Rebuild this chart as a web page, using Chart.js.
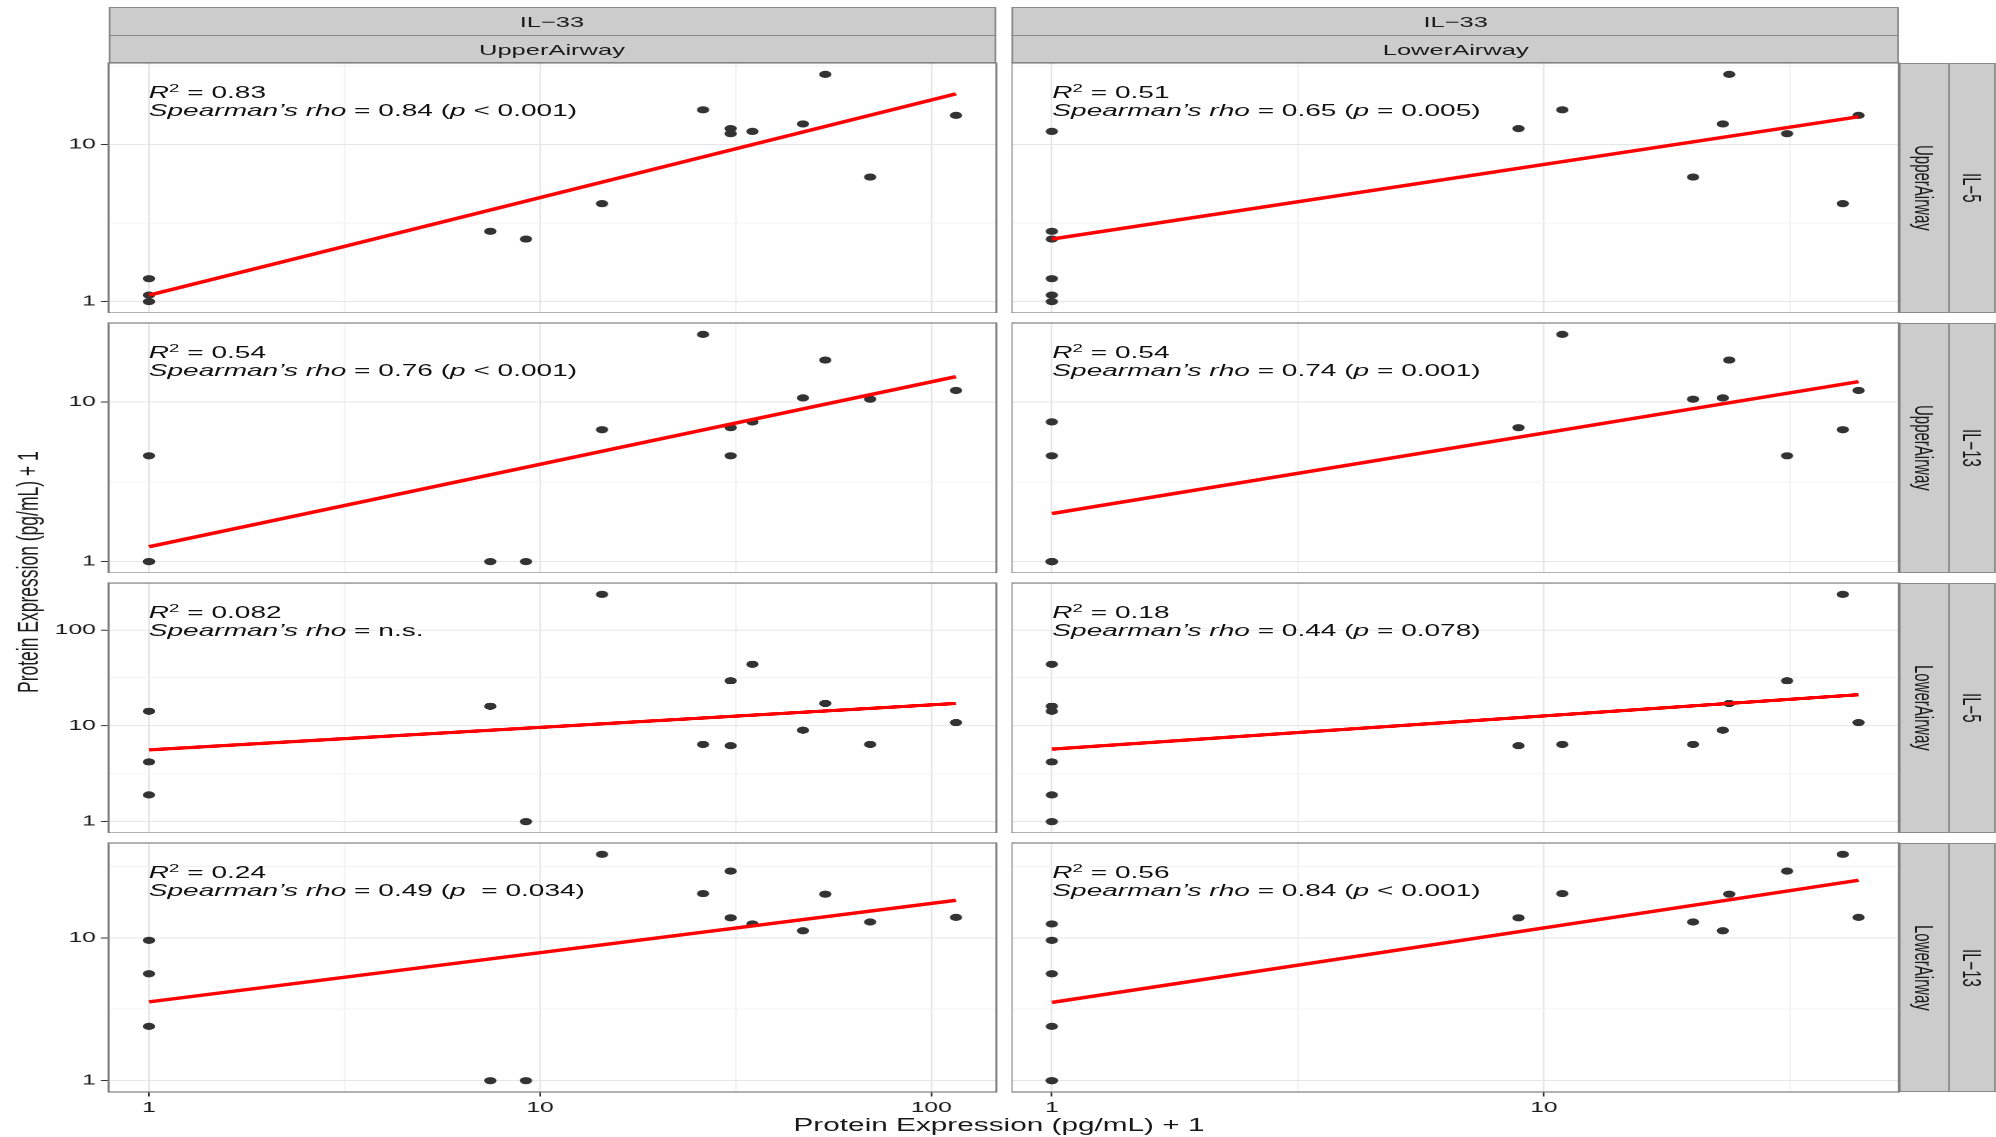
<!DOCTYPE html>
<html>
<head>
<meta charset="utf-8">
<script src="https://cdn.jsdelivr.net/npm/chart.js@4.4.1/dist/chart.umd.min.js"></script>
<style>
  html, body { margin: 0; padding: 0; background: #fff; overflow: hidden; }
  body { width: 1996px; height: 1137px; position: relative; }
  #stage {
    position: absolute; left: 0; top: 0; height: 1137px;
    transform-origin: 0 0;
    font-family: "Liberation Sans", Arial, sans-serif;
    color: #1a1a1a;
  }
  .panel { position: absolute; }
  .strip {
    position: absolute; box-sizing: border-box;
    background: #cccccc; border: 1px solid #8a8a8a;
    display: flex; align-items: center; justify-content: center;
    font-size: 15px; color: #1a1a1a; white-space: nowrap;
  }
  .strip.side span { writing-mode: vertical-rl; }
  .note { position: absolute; font-size: 16.5px; line-height: 16.5px; white-space: pre; color: #111; }
  .note .sup { position: relative; top: -6px; font-size: 11px; }
  .axis-title { position: absolute; font-size: 17.5px; white-space: nowrap; color: #1a1a1a; }
  .axis-title.y { writing-mode: vertical-rl; transform: rotate(180deg); display: flex; align-items: center; justify-content: center; }
</style>
</head>
<body>
<div id="stage"></div>
<script>
// --- Data: (pg/mL) + 1 per subject, same subject order in every array ---
const il33Upper = [1, 1, 1, 7.46, 9.2, 14.4, 26.1, 30.7, 30.7, 34.9, 47, 53.6, 69.8, 115.7];
const il33Lower = [1, 1, 1, 1, 1, 40.5, 10.9, 8.88, 31.2, 1, 23.1, 23.8, 20.1, 43.6];
const il5Upper  = [1.4, 1.1, 1.0, 2.8, 2.5, 4.2, 16.6, 12.6, 11.7, 12.1, 13.5, 27.9, 6.2, 15.3];
const il13Upper = [4.6, 1, 1, 1, 1, 6.7, 26.5, 6.9, 4.6, 7.5, 10.6, 18.3, 10.4, 11.8];
const il5Lower  = [14.2, 4.2, 1.9, 16.0, 1, 235, 6.4, 6.2, 29.5, 43.9, 9.0, 17.1, 6.4, 10.8];
const il13Lower = [9.6, 5.6, 2.4, 1, 1, 38.4, 20.4, 13.8, 29.3, 12.5, 11.2, 20.2, 12.9, 13.9];

// fitted line ends [y at min x, y at max x]
const fitUpperCol = [[1.1, 21.0], [1.24, 14.4], [5.6, 17.1], [3.56, 18.3]];
const fitLowerCol = [[2.5, 15.0], [2.0, 13.4], [5.7, 21.1], [3.53, 25.3]];

// annotations
const r2Text  = [['0.83', '0.51'], ['0.54', '0.54'], ['0.082', '0.18'], ['0.24', '0.56']];
const rhoText = [['0.84', '0.65'], ['0.76', '0.74'], ['n.s.', '0.44'], ['0.49', '0.84']];
const pText   = [['&lt; 0.001', '= 0.005'], ['&lt; 0.001', '= 0.001'], ['', '= 0.078'], [' = 0.034', '&lt; 0.001']];

// ticks
const majorTicks = [1, 10, 100];
const minorTicks = [3.162, 31.62, 316.2];

// facet labels
const topStrip = 'IL\u221233';
const colStrip = ['UpperAirway', 'LowerAirway'];
const rowSite = ['UpperAirway', 'UpperAirway', 'LowerAirway', 'LowerAirway'];
const rowCytokine = ['IL\u22125', 'IL\u221213', 'IL\u22125', 'IL\u221213'];

const colData = [il33Upper, il33Lower];
const rowData = [il5Upper, il13Upper, il5Lower, il13Lower];
const fitCols = [fitUpperCol, fitLowerCol];

// --- Geometry (full-size px; x is squeezed by S and the stage stretched back) ---
const S = 1.7;
const W = 1996, H = 1137;
const colLeft = [108.5, 1012];
const colRight = [995.5, 1899.5];
const rowTop = [63, 323, 583, 843];
const rowBottom = [313, 573, 832.5, 1092];
const stripTop = [7, 35, 63];
const sideStrip = [1899.5, 1948, 1996];

const stage = document.getElementById('stage');
stage.style.width = (W / S) + 'px';
stage.style.transform = `scaleX(${S})`;

Chart.defaults.font.family = '"Liberation Sans", Arial, sans-serif';
Chart.defaults.color = '#1a1a1a';

const isMinor = (v) => minorTicks.some(m => Math.abs(m - v) < 1e-6);

// ggplot-like 5% expansion in log space
function logRange(vals) {
  const lo = Math.log10(Math.min(...vals));
  const hi = Math.log10(Math.max(...vals));
  const pad = (hi - lo) * 0.05;
  return [Math.pow(10, lo - pad), Math.pow(10, hi + pad)];
}

function addDiv(cls, css, html) {
  const d = document.createElement('div');
  d.className = cls;
  Object.assign(d.style, css);
  if (html !== undefined) d.innerHTML = html;
  stage.appendChild(d);
  return d;
}

const panelBorder = {
  id: 'panelBorder',
  afterDraw(chart) {
    const { ctx, chartArea: a } = chart;
    ctx.save();
    ctx.strokeStyle = '#7f7f7f';
    ctx.lineWidth = 1.2;
    ctx.strokeRect(a.left, a.top, a.right - a.left, a.bottom - a.top);
    ctx.restore();
  }
};

function logAxis(min, max, show, setSize) {
  return {
    type: 'logarithmic',
    min: min,
    max: max,
    afterBuildTicks: (scale) => {
      scale.ticks = majorTicks.concat(minorTicks)
        .filter(v => v >= min && v <= max)
        .sort((a, b) => a - b)
        .map(v => ({ value: v }));
    },
    afterFit: (scale) => {
      // fixed axis band, no label overhang padding
      setSize(scale);
      scale.paddingTop = 0;
      scale.paddingBottom = 0;
      scale.paddingLeft = 0;
      scale.paddingRight = 0;
    },
    border: { display: false },
    grid: {
      color: (ctx) => (ctx.tick && isMinor(ctx.tick.value)) ? '#f3f3f3' : '#e6e6e6',
      lineWidth: 1,
      drawTicks: show,
      tickLength: 4.5,
      tickColor: (ctx) => (ctx.tick && isMinor(ctx.tick.value)) ? 'rgba(0,0,0,0)' : '#333333'
    },
    ticks: {
      display: show,
      padding: 3,
      color: '#1a1a1a',
      font: { size: 14.5 },
      autoSkip: false,
      maxRotation: 0,
      callback: (v) => isMinor(v) ? '' : String(v)
    }
  };
}

function makePanel(r, c) {
  const xVals = colData[c];
  const yVals = rowData[r];
  const showY = c === 0;
  const showX = r === rowData.length - 1;

  const left = showY ? 0 : colLeft[c] / S;
  const axisW = showY ? colLeft[c] / S : 0;
  const width = colRight[c] / S - left + 1;
  const axisH = showX ? H - rowBottom[r] : 0;
  const top = rowTop[r] - 1;
  const height = rowBottom[r] - rowTop[r] + 1 + axisH;

  const box = addDiv('panel', { left: left + 'px', top: top + 'px', width: width + 'px', height: height + 'px' });
  const canvas = document.createElement('canvas');
  box.appendChild(canvas);

  const points = xVals.map((x, i) => ({ x: x, y: yVals[i] }));
  const fit = fitCols[c][r];
  const fitLine = [
    { x: Math.min(...xVals), y: fit[0] },
    { x: Math.max(...xVals), y: fit[1] }
  ];
  const [x0, x1] = logRange(xVals);
  const [y0, y1] = logRange(yVals);

  new Chart(canvas, {
    type: 'scatter',
    data: {
      datasets: [
        {
          data: fitLine,
          showLine: true,
          borderColor: '#ff0000',
          borderWidth: 3.4,
          pointRadius: 0,
          order: 0
        },
        {
          data: points,
          backgroundColor: '#333333',
          borderWidth: 0,
          pointRadius: 3.6,
          order: 1
        }
      ]
    },
    options: {
      animation: false,
      responsive: true,
      maintainAspectRatio: false,
      devicePixelRatio: 2,
      layout: { autoPadding: false, padding: { top: 1, right: 1, left: 0, bottom: 0 } },
      plugins: { legend: { display: false }, tooltip: { enabled: false } },
      scales: {
        x: logAxis(x0, x1, showX, (s) => { s.height = axisH; }),
        y: logAxis(y0, y1, showY, (s) => { s.width = axisW; })
      }
    },
    plugins: [panelBorder]
  });

  // R^2 / Spearman annotation, left-aligned at x = 1 (same log mapping as the panel's x axis)
  const frac = (0 - Math.log10(x0)) / (Math.log10(x1) - Math.log10(x0));
  const noteX = (colLeft[c] + frac * (colRight[c] - colLeft[c])) / S;
  const pPart = pText[r][c] ? ` (<i>p</i> ${pText[r][c]})` : '';
  addDiv('note', { left: noteX + 'px', top: (rowTop[r] + 20.5) + 'px' },
    `<i>R</i><span class="sup">2</span> = ${r2Text[r][c]}<br><i>Spearman\u2019s rho</i> = ${rhoText[r][c]}${pPart}`);
}

// --- Facet strips ---
colStrip.forEach((label, c) => {
  const l = colLeft[c] / S, w = (colRight[c] - colLeft[c]) / S;
  addDiv('strip', { left: l + 'px', width: w + 'px', top: stripTop[0] + 'px', height: (stripTop[1] - stripTop[0] + 1) + 'px' }, `<span>${topStrip}</span>`);
  addDiv('strip', { left: l + 'px', width: w + 'px', top: stripTop[1] + 'px', height: (stripTop[2] - stripTop[1]) + 'px' }, `<span>${label}</span>`);
});

rowSite.forEach((site, r) => {
  const t = rowTop[r], h = rowBottom[r] - rowTop[r];
  addDiv('strip side', { left: sideStrip[0] / S + 'px', width: (sideStrip[1] - sideStrip[0]) / S + 1 + 'px', top: t + 'px', height: h + 'px' }, `<span>${site}</span>`);
  addDiv('strip side', { left: sideStrip[1] / S + 'px', width: (sideStrip[2] - sideStrip[1]) / S + 'px', top: t + 'px', height: h + 'px' }, `<span>${rowCytokine[r]}</span>`);
});

// --- Panels ---
rowData.forEach((_, r) => {
  colData.forEach((_, c) => makePanel(r, c));
});

// --- Axis titles ---
addDiv('axis-title', { left: (999 / S - 200) + 'px', width: '400px', textAlign: 'center', top: '1115px', lineHeight: '20px' },
  'Protein Expression (pg/mL) + 1');
addDiv('axis-title y', { left: (29 / S - 10) + 'px', width: '20px', top: (572 - 160) + 'px', height: '320px' },
  'Protein Expression (pg/mL) + 1');
</script>
</body>
</html>
